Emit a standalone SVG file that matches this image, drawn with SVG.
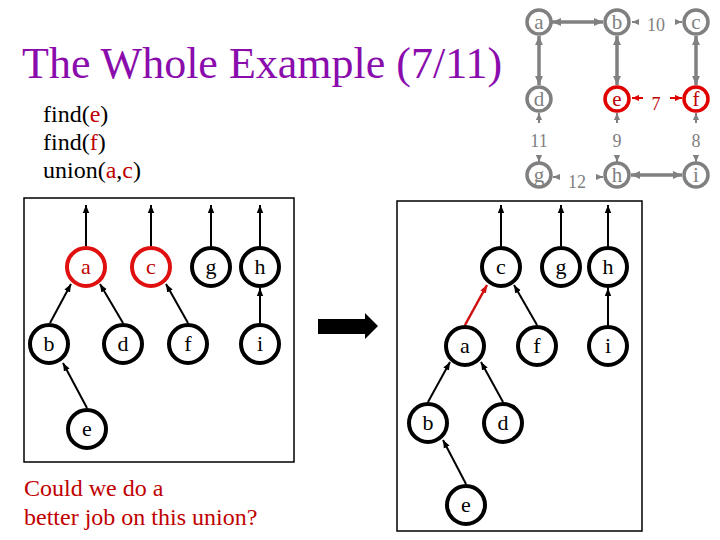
<svg xmlns="http://www.w3.org/2000/svg" width="720" height="540" viewBox="0 0 720 540" font-family="Liberation Serif">
<defs>
<style>
.title{font-size:44px;fill:#8a0cad;}
.cmd{font-size:24px;fill:#000;}
.red{fill:#c00000;}
.gn{fill:#fff;stroke:#808080;stroke-width:3.5;}
.gnr{fill:#fff;stroke:#e00000;stroke-width:3.5;}
.gl{font-size:21px;fill:#808080;text-anchor:middle;}
.glr{font-size:21px;fill:#c00000;text-anchor:middle;}
.num{font-size:18px;fill:#808080;text-anchor:middle;}
.numr{font-size:18px;fill:#c00000;text-anchor:middle;}
.ge{stroke:#808080;stroke-width:3.5;fill:none;}
.gs{stroke:#808080;stroke-width:2;fill:none;}
.re{stroke:#e00000;stroke-width:2;fill:none;}
.tn{fill:#fff;stroke:#000;stroke-width:4;}
.tnr{fill:#fff;stroke:#e01010;stroke-width:4;}
.tl{font-size:22px;fill:#000;text-anchor:middle;}
.tlr{font-size:22px;fill:#c00000;text-anchor:middle;}
.te{stroke:#000;stroke-width:2;fill:none;marker-end:url(#ba);}
.ter{stroke:#d01010;stroke-width:2.5;fill:none;marker-end:url(#ra);}
.box{fill:none;stroke:#000;stroke-width:1.5;}
</style>
<marker id="ba" viewBox="0 0 8 8" refX="8" refY="4" markerWidth="8" markerHeight="8" markerUnits="userSpaceOnUse" orient="auto"><path d="M0,0.8 L8,4 L0,7.2 z" fill="#000"/></marker>
<marker id="ra" viewBox="0 0 8 8" refX="8" refY="4" markerWidth="8" markerHeight="8" markerUnits="userSpaceOnUse" orient="auto"><path d="M0,0.8 L8,4 L0,7.2 z" fill="#d01010"/></marker>
<marker id="ga" viewBox="0 0 8 8" refX="8" refY="4" markerWidth="9" markerHeight="9" markerUnits="userSpaceOnUse" orient="auto-start-reverse"><path d="M0,0.5 L8,4 L0,7.5 z" fill="#808080"/></marker>
<marker id="gsa" viewBox="0 0 8 8" refX="8" refY="4" markerWidth="7" markerHeight="7" markerUnits="userSpaceOnUse" orient="auto"><path d="M0,0.5 L8,4 L0,7.5 z" fill="#808080"/></marker>
<marker id="rsa" viewBox="0 0 8 8" refX="8" refY="4" markerWidth="7" markerHeight="7" markerUnits="userSpaceOnUse" orient="auto"><path d="M0,0.5 L8,4 L0,7.5 z" fill="#e00000"/></marker>
</defs>

<text class="title" x="22" y="78" font-family="Liberation Serif">The Whole Example (7/11)</text>
<text class="cmd" x="43" y="122" font-family="Liberation Serif">find(<tspan class="red">e</tspan>)</text>
<text class="cmd" x="43" y="150" font-family="Liberation Serif">find(<tspan class="red">f</tspan>)</text>
<text class="cmd" x="43" y="178" font-family="Liberation Serif">union(<tspan class="red">a</tspan>,<tspan class="red">c</tspan>)</text>

<!-- top-right graph connectors -->
<g id="graph-edges" font-family="Liberation Serif">
<line class="ge" x1="552" y1="22" x2="603" y2="22" marker-start="url(#ga)" marker-end="url(#ga)"/>
<line class="ge" x1="539" y1="36" x2="539" y2="85" marker-start="url(#ga)" marker-end="url(#ga)"/>
<line class="ge" x1="617" y1="36" x2="617" y2="85" marker-start="url(#ga)" marker-end="url(#ga)"/>
<line class="ge" x1="696" y1="36" x2="696" y2="85" marker-start="url(#ga)" marker-end="url(#ga)"/>
<line class="ge" x1="631" y1="175" x2="682" y2="175" marker-start="url(#ga)" marker-end="url(#ga)"/>
<line class="gs" x1="638" y1="22" x2="632" y2="22" marker-end="url(#gsa)"/>
<line class="gs" x1="676" y1="22" x2="682" y2="22" marker-end="url(#gsa)"/>
<line class="re" x1="643" y1="98" x2="632" y2="98" marker-end="url(#rsa)"/>
<line class="re" x1="670" y1="98" x2="682" y2="98" marker-end="url(#rsa)"/>
<line class="gs" x1="539" y1="123" x2="539" y2="113" marker-end="url(#gsa)"/>
<line class="gs" x1="617" y1="123" x2="617" y2="113" marker-end="url(#gsa)"/>
<line class="gs" x1="696" y1="123" x2="696" y2="113" marker-end="url(#gsa)"/>
<line class="gs" x1="539" y1="156" x2="539" y2="162" marker-end="url(#gsa)"/>
<line class="gs" x1="617" y1="156" x2="617" y2="162" marker-end="url(#gsa)"/>
<line class="gs" x1="696" y1="156" x2="696" y2="162" marker-end="url(#gsa)"/>
<line class="gs" x1="559" y1="177" x2="553" y2="177" marker-end="url(#gsa)"/>
<line class="gs" x1="597" y1="177" x2="603" y2="177" marker-end="url(#gsa)"/>
<text class="num" x="656" y="31" font-family="Liberation Serif">10</text>
<text class="numr" x="656" y="110" font-family="Liberation Serif">7</text>
<text class="num" x="539" y="147" font-family="Liberation Serif">11</text>
<text class="num" x="617" y="147" font-family="Liberation Serif">9</text>
<text class="num" x="696" y="147" font-family="Liberation Serif">8</text>
<text class="num" x="577" y="188" font-family="Liberation Serif">12</text>
</g>
<g id="g-a"><circle class="gn" cx="539" cy="22" r="12"/><text class="gl" x="539" y="29" font-family="Liberation Serif">a</text></g>
<g id="g-b"><circle class="gn" cx="617" cy="22" r="12"/><text class="gl" x="617" y="29" font-family="Liberation Serif">b</text></g>
<g id="g-c"><circle class="gn" cx="696" cy="22" r="12"/><text class="gl" x="696" y="29" font-family="Liberation Serif">c</text></g>
<g id="g-d"><circle class="gn" cx="539" cy="99" r="12"/><text class="gl" x="539" y="106" font-family="Liberation Serif">d</text></g>
<g id="g-e"><circle class="gnr" cx="617" cy="99" r="12"/><text class="glr" x="617" y="106" font-family="Liberation Serif">e</text></g>
<g id="g-f"><circle class="gnr" cx="696" cy="99" r="12"/><text class="glr" x="696" y="106" font-family="Liberation Serif">f</text></g>
<g id="g-g"><circle class="gn" cx="539" cy="175" r="12"/><text class="gl" x="539" y="182" font-family="Liberation Serif">g</text></g>
<g id="g-h"><circle class="gn" cx="617" cy="175" r="12"/><text class="gl" x="617" y="182" font-family="Liberation Serif">h</text></g>
<g id="g-i"><circle class="gn" cx="696" cy="175" r="12"/><text class="gl" x="696" y="182" font-family="Liberation Serif">i</text></g>

<!-- boxes -->
<rect class="box" x="24" y="198" width="270" height="264"/>
<rect class="box" x="397" y="201" width="245" height="330"/>

<!-- left forest connectors -->
<g id="left-edges">
<line class="te" x1="86" y1="246" x2="86" y2="205"/>
<line class="te" x1="151" y1="246" x2="151" y2="205"/>
<line class="te" x1="211" y1="246" x2="211" y2="205"/>
<line class="te" x1="260" y1="246" x2="260" y2="205"/>
<line class="te" x1="50" y1="323" x2="71" y2="284"/>
<line class="te" x1="123" y1="323" x2="100" y2="284"/>
<line class="te" x1="188" y1="323" x2="166" y2="284"/>
<line class="te" x1="260" y1="323" x2="260" y2="288"/>
<line class="te" x1="87" y1="408" x2="63" y2="363"/>
</g>
<g id="l-a"><circle class="tnr" cx="86" cy="267" r="19"/><text class="tlr" x="86" y="274" font-family="Liberation Serif">a</text></g>
<g id="l-c"><circle class="tnr" cx="151" cy="267" r="19"/><text class="tlr" x="151" y="274" font-family="Liberation Serif">c</text></g>
<g id="l-g"><circle class="tn" cx="211" cy="267" r="19"/><text class="tl" x="211" y="274" font-family="Liberation Serif">g</text></g>
<g id="l-h"><circle class="tn" cx="260" cy="267" r="19"/><text class="tl" x="260" y="274" font-family="Liberation Serif">h</text></g>
<g id="l-b"><circle class="tn" cx="49" cy="344" r="19"/><text class="tl" x="49" y="351" font-family="Liberation Serif">b</text></g>
<g id="l-d"><circle class="tn" cx="123" cy="344" r="19"/><text class="tl" x="123" y="351" font-family="Liberation Serif">d</text></g>
<g id="l-f"><circle class="tn" cx="188" cy="344" r="19"/><text class="tl" x="188" y="351" font-family="Liberation Serif">f</text></g>
<g id="l-i"><circle class="tn" cx="260" cy="344" r="19"/><text class="tl" x="260" y="351" font-family="Liberation Serif">i</text></g>
<g id="l-e"><circle class="tn" cx="87" cy="429" r="19"/><text class="tl" x="87" y="436" font-family="Liberation Serif">e</text></g>

<!-- block arrow -->
<polygon id="arrow" points="318,319 365,319 365,313 378,326 365,339 365,334 318,334" fill="#000"/>

<!-- right forest connectors -->
<g id="right-edges">
<line class="te" x1="501" y1="246" x2="501" y2="205"/>
<line class="te" x1="561" y1="246" x2="561" y2="205"/>
<line class="te" x1="608" y1="246" x2="608" y2="205"/>
<line class="ter" x1="465" y1="325" x2="487" y2="285"/>
<line class="te" x1="537" y1="325" x2="514" y2="285"/>
<line class="te" x1="608" y1="325" x2="608" y2="288"/>
<line class="te" x1="428" y1="402" x2="450" y2="362"/>
<line class="te" x1="503" y1="402" x2="481" y2="362"/>
<line class="te" x1="466" y1="484" x2="443" y2="440"/>
</g>
<g id="r-c"><circle class="tn" cx="501" cy="267" r="19"/><text class="tl" x="501" y="274" font-family="Liberation Serif">c</text></g>
<g id="r-g"><circle class="tn" cx="561" cy="267" r="19"/><text class="tl" x="561" y="274" font-family="Liberation Serif">g</text></g>
<g id="r-h"><circle class="tn" cx="608" cy="267" r="19"/><text class="tl" x="608" y="274" font-family="Liberation Serif">h</text></g>
<g id="r-a"><circle class="tn" cx="465" cy="346" r="19"/><text class="tl" x="465" y="353" font-family="Liberation Serif">a</text></g>
<g id="r-f"><circle class="tn" cx="537" cy="346" r="19"/><text class="tl" x="537" y="353" font-family="Liberation Serif">f</text></g>
<g id="r-i"><circle class="tn" cx="608" cy="346" r="19"/><text class="tl" x="608" y="353" font-family="Liberation Serif">i</text></g>
<g id="r-b"><circle class="tn" cx="428" cy="423" r="19"/><text class="tl" x="428" y="430" font-family="Liberation Serif">b</text></g>
<g id="r-d"><circle class="tn" cx="503" cy="423" r="19"/><text class="tl" x="503" y="430" font-family="Liberation Serif">d</text></g>
<g id="r-e"><circle class="tn" cx="466" cy="505" r="19"/><text class="tl" x="466" y="512" font-family="Liberation Serif">e</text></g>

<text class="cmd red" x="24" y="496" font-family="Liberation Serif">Could we do a</text>
<text class="cmd red" x="24" y="525" font-family="Liberation Serif">better job on this union?</text>
</svg>
